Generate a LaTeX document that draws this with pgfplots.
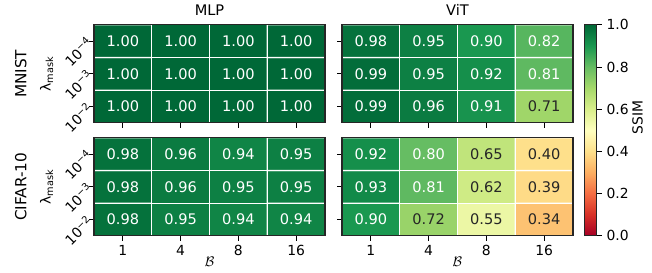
\documentclass[border=0pt]{standalone}
\usepackage{pgfplots}
\pgfplotsset{compat=1.18}
\usepackage{pgfplotstable}
\usepackage{fontspec}
\setmainfont{DejaVu Sans}
\definecolor{darktxt}{HTML}{262626}
\newcommand\W[1]{\textcolor{white}{#1}}
\newcommand\D[1]{\textcolor{darktxt}{#1}}
\pgfplotsset{colormap={RdYlGn}{rgb255=(165,0,38) rgb255=(215,48,39) rgb255=(244,109,67) rgb255=(253,174,97) rgb255=(254,224,139) rgb255=(255,255,191) rgb255=(217,239,139) rgb255=(166,217,106) rgb255=(102,189,99) rgb255=(26,152,80) rgb255=(0,104,55)}}

\pgfplotstableread{
x y c lab
0 0 1.00 \W{1.00}
1 0 1.00 \W{1.00}
2 0 1.00 \W{1.00}
3 0 1.00 \W{1.00}
0 1 1.00 \W{1.00}
1 1 1.00 \W{1.00}
2 1 1.00 \W{1.00}
3 1 1.00 \W{1.00}
0 2 1.00 \W{1.00}
1 2 1.00 \W{1.00}
2 2 1.00 \W{1.00}
3 2 1.00 \W{1.00}
}\mlpmnist
\pgfplotstableread{
x y c lab
0 0 0.99 \W{0.99}
1 0 0.96 \W{0.96}
2 0 0.91 \W{0.91}
3 0 0.71 \D{0.71}
0 1 0.99 \W{0.99}
1 1 0.95 \W{0.95}
2 1 0.92 \W{0.92}
3 1 0.81 \W{0.81}
0 2 0.98 \W{0.98}
1 2 0.95 \W{0.95}
2 2 0.90 \W{0.90}
3 2 0.82 \W{0.82}
}\vitmnist
\pgfplotstableread{
x y c lab
0 0 0.98 \W{0.98}
1 0 0.95 \W{0.95}
2 0 0.94 \W{0.94}
3 0 0.94 \W{0.94}
0 1 0.98 \W{0.98}
1 1 0.96 \W{0.96}
2 1 0.95 \W{0.95}
3 1 0.95 \W{0.95}
0 2 0.98 \W{0.98}
1 2 0.96 \W{0.96}
2 2 0.94 \W{0.94}
3 2 0.95 \W{0.95}
}\mlpcifar
\pgfplotstableread{
x y c lab
0 0 0.90 \W{0.90}
1 0 0.72 \D{0.72}
2 0 0.55 \D{0.55}
3 0 0.34 \D{0.34}
0 1 0.93 \W{0.93}
1 1 0.81 \W{0.81}
2 1 0.62 \D{0.62}
3 1 0.39 \D{0.39}
0 2 0.92 \W{0.92}
1 2 0.80 \W{0.80}
2 2 0.65 \D{0.65}
3 2 0.40 \D{0.40}
}\vitcifar

\pgfplotsset{hm/.style={
  scale only axis, width=166.3pt, height=70.6pt,
  xmin=-0.5, xmax=3.5, ymin=-0.5, ymax=2.5,
  enlargelimits=false,
  colormap name=RdYlGn, point meta min=0, point meta max=1,
  xtick={0,1,2,3}, xticklabels={1,4,8,16},
  ytick={0,1,2},
  yticklabels={10\textsuperscript{−2},10\textsuperscript{−3},10\textsuperscript{−4}},
  yticklabel style={rotate=45, anchor=center, xshift=-11pt, inner sep=0pt},
  tick align=outside, tick pos=left, major tick length=3.5pt,
  every tick/.style={black, line width=0.8pt},
  axis line style={black!85, line width=0.8pt},
  axis on top,
  tick label style={font=\fontsize{10}{12}\selectfont},
  label style={font=\fontsize{10}{12}\selectfont},
  title style={font=\fontsize{10.5}{12}\selectfont, yshift=-3pt},
  /pgf/number format/assume math mode=true,
  ylabel style={at={(axis description cs:-0.205,0.5)}, anchor=center},
  xlabel style={at={(axis description cs:0.5,0)}, anchor=center, yshift=-18.5pt},
}}
\newcommand\heat[1]{%
  \addplot[matrix plot*, mesh/cols=4, point meta=explicit, draw=white, line width=0.9pt] table[x=x,y=y,meta=c]{#1};
  \addplot[draw=none, mark=none, point meta=explicit symbolic,
    nodes near coords, nodes near coords align={center},
    every node near coord/.append style={font=\fontsize{10.5}{12}\selectfont, inner sep=0pt}]
    table[x=x,y=y,meta=lab]{#1};
}

\begin{document}
\begin{tikzpicture}
\path (0,0) rectangle (469.4pt,194.4pt);
% top left
\begin{axis}[hm, at={(67.7pt,108pt)}, anchor=south west, title={MLP}, xticklabels={},
  ylabel={λ\textsubscript{mask}}]
\heat{\mlpmnist}
\end{axis}
% top right
\begin{axis}[hm, at={(246.2pt,108pt)}, anchor=south west, title={ViT}, xticklabels={}, yticklabels={}]
\heat{\vitmnist}
\end{axis}
% bottom left
\begin{axis}[hm, at={(67.7pt,26.6pt)}, anchor=south west,
  ylabel={λ\textsubscript{mask}}, xlabel={$\mathcal{B}$}]
\heat{\mlpcifar}
\end{axis}
% bottom right
\begin{axis}[hm, at={(246.2pt,26.6pt)}, anchor=south west, yticklabels={}, xlabel={$\mathcal{B}$},
  colorbar,
  colorbar style={at={(parent axis.south east)}, anchor=south west, xshift=0pt,
    scale only axis, width=8.6pt, height=151.9pt,
    ymin=0, ymax=1, ytick={0,0.2,0.4,0.6,0.8,1},
    yticklabel style={/pgf/number format/.cd, fixed, fixed zerofill, precision=1, assume math mode=true},
    yticklabel pos=right, ytick pos=right, tick align=outside, major tick length=3.5pt,
    every tick/.style={black, line width=0.8pt},
    axis line style={black!85, line width=0.8pt},
    tick label style={font=\fontsize{10}{12}\selectfont}}]
\heat{\vitcifar}
\end{axis}
\node[rotate=90, font=\fontsize{11}{13}\selectfont] at (15pt,143.3pt) {MNIST};
\node[rotate=90, font=\fontsize{11}{13}\selectfont] at (15pt,61.9pt) {CIFAR-10};
\node[rotate=90, font=\fontsize{10}{12}\selectfont] at (459pt,112pt) {SSIM};
\end{tikzpicture}
\end{document}
